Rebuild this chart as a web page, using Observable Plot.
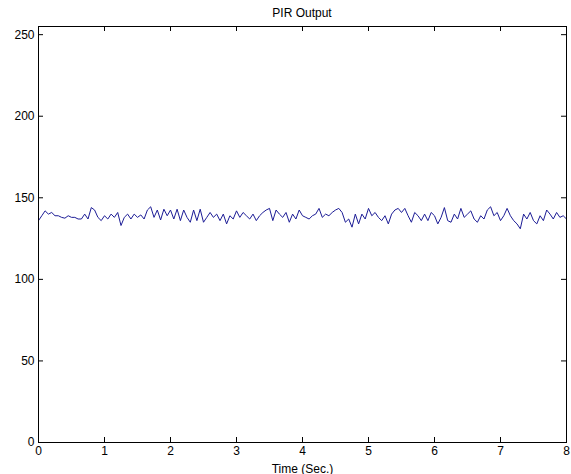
<!DOCTYPE html>
<html>
<head>
<meta charset="utf-8">
<script src="https://cdn.jsdelivr.net/npm/d3@7"></script>
<script src="https://cdn.jsdelivr.net/npm/@observablehq/plot@0.6"></script>
<style>
  html, body { margin: 0; padding: 0; background: #fff; }
  #title { box-sizing: border-box; width: 571px; height: 20px; padding: 6px 5px 0 38px;
           font: 12px "Liberation Sans", Arial, sans-serif; line-height: 14px; text-align: center; color: #000; }
</style>
</head>
<body>
<div id="title">PIR Output</div>
<div id="chart"></div>
<script>
const titleText = "PIR Output";
const xLabel = "Time (Sec.)";
const sampleStep = 0.05; // seconds between samples
const pirValues = [
  136,139,142,140,141,139,139,138,137.5,139,138,138,137,137,140,137,144,142.5,138,136,139,137,140,138,141,133,138,
  140,137,140,138,139.5,137,142.5,144.5,138,142.5,136.4,143,139,142.5,137,143,136,142.5,138,135,142.5,136,143,135,138,
  141,138,140,136,140,134,139,137,142,138,141,139,137,140,136,139,141,142.5,143.5,136,142.5,140,138,141,135,140,
  137,142.5,139,138,137,139,140,143.5,138,140,139,141,142.5,143.5,141,135,137,132,140,134,140,137,143.5,139,141,
  138,136,139,134,140,142.5,143.5,141,143.5,139,135,141,139,136,140,136,141,139,134,138,144,136,135,140,137,143.5,
  138,140,142,137,135,139,137,142.5,144.5,139,141,136,139,143.5,139,136,134,131,140,137,141,136,134,139,136,142.5,140,137,141,138,139,137
];
const xTicks = [0, 1, 2, 3, 4, 5, 6, 7, 8];
const yTicks = [0, 50, 100, 150, 200, 250];
const yDomain = [0, 255];
const xDomain = [0, 8];

document.getElementById("title").textContent = titleText;
const data = pirValues.map((v, i) => ({t: i * sampleStep, v}));

const W = 571, H = 454;
const mL = 38, mR = 5, mT = 6, mB = 32;
const pw = W - mL - mR, ph = H - mT - mB;
const tl = 5;

const chart = Plot.plot({
  width: W,
  height: H,
  marginLeft: mL, marginRight: mR, marginTop: mT, marginBottom: mB,
  style: {fontFamily: '"Liberation Sans", Arial, sans-serif', fontSize: "12px", background: "#fff", color: "#000"},
  x: {domain: xDomain, label: null},
  y: {domain: yDomain, label: null},
  marks: [
    Plot.line(data, {x: "t", y: "v", stroke: "#1c1c96", strokeWidth: 1}),
    // inward ticks on all four sides (MATLAB box style)
    Plot.tickX(xTicks, {x: d => d, stroke: "#000", insetTop: ph - tl}),
    Plot.tickX(xTicks, {x: d => d, stroke: "#000", insetBottom: ph - tl}),
    Plot.tickY(yTicks, {y: d => d, stroke: "#000", insetRight: pw - tl}),
    Plot.tickY(yTicks, {y: d => d, stroke: "#000", insetLeft: pw - tl}),
    Plot.axisX({ticks: xTicks, tickSize: 0, tickPadding: 4, tickFormat: d => String(d),
                label: xLabel, labelAnchor: "center", labelArrow: "none", labelOffset: 30}),
    Plot.axisY({ticks: yTicks, tickSize: 0, tickPadding: 4, tickFormat: d => String(d), label: null}),
    Plot.frame({stroke: "#000"})
  ]
});
document.getElementById("chart").appendChild(chart);
</script>
</body>
</html>
